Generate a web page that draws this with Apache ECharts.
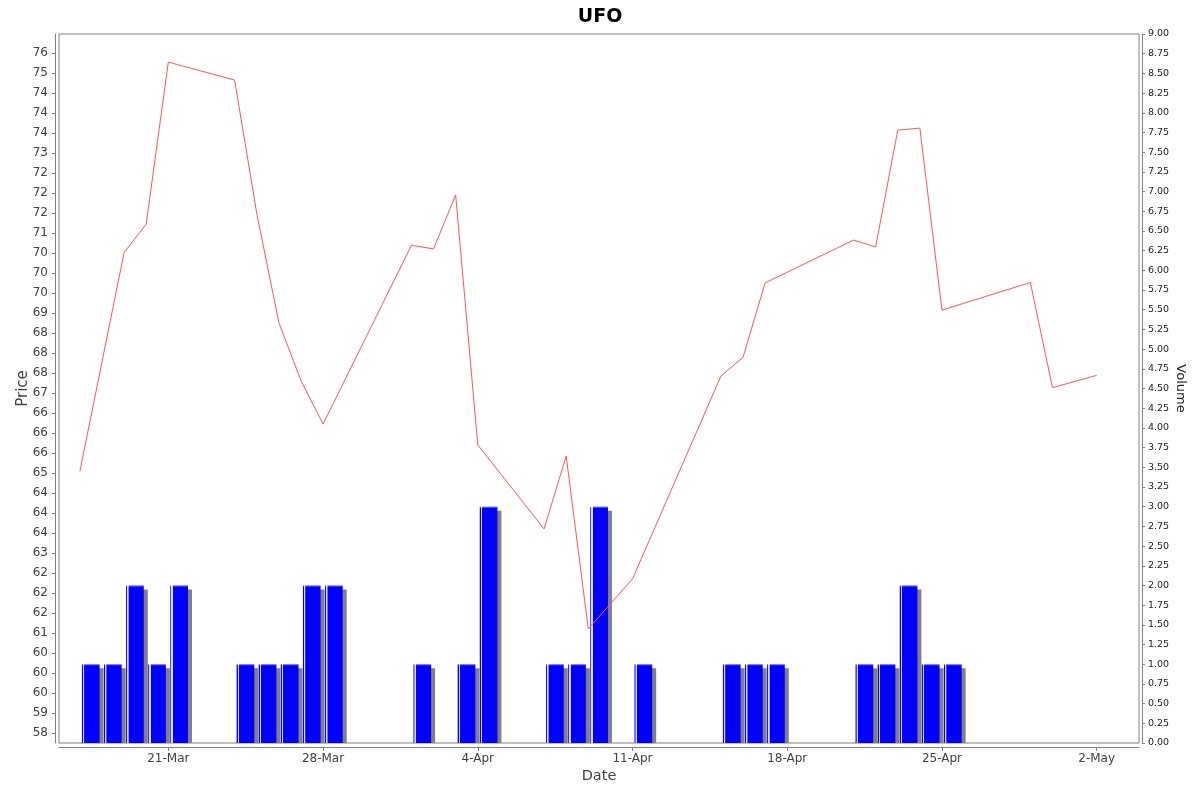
<!DOCTYPE html>
<html>
<head>
<meta charset="utf-8">
<script src="https://cdn.jsdelivr.net/npm/echarts@6/dist/echarts.min.js"></script>
<style>
html,body{margin:0;padding:0;background:#ffffff;}
#chart{width:1200px;height:792px;}
</style>
</head>
<body>
<div id="chart"></div>
<script>
// ---------------- data ----------------
const priceDates = ['2014-03-17','2014-03-19','2014-03-20','2014-03-21','2014-03-24','2014-03-25','2014-03-26','2014-03-27','2014-03-28',
  '2014-04-01','2014-04-02','2014-04-03','2014-04-04','2014-04-07','2014-04-08','2014-04-09','2014-04-11',
  '2014-04-15','2014-04-16','2014-04-17','2014-04-21','2014-04-22','2014-04-23','2014-04-24','2014-04-25',
  '2014-04-29','2014-04-30','2014-05-02'];
const priceValues = [65.05, 70.52, 71.23, 75.28, 74.83, 71.50, 68.77, 67.32, 66.23,
  70.70, 70.61, 71.96, 65.71, 63.61, 65.43, 61.11, 62.36,
  67.43, 67.90, 69.76, 70.83, 70.66, 73.58, 73.63, 69.08,
  69.77, 67.14, 67.45];

const volumeDates = ['2014-03-17','2014-03-18','2014-03-19','2014-03-20','2014-03-21',
  '2014-03-24','2014-03-25','2014-03-26','2014-03-27','2014-03-28',
  '2014-04-01','2014-04-03','2014-04-04',
  '2014-04-07','2014-04-08','2014-04-09','2014-04-11',
  '2014-04-15','2014-04-16','2014-04-17',
  '2014-04-21','2014-04-22','2014-04-23','2014-04-24','2014-04-25'];
const volumeValues = [1, 1, 2, 1, 2,
  1, 1, 1, 2, 2,
  1, 1, 3,
  1, 1, 3, 1,
  1, 1, 1,
  1, 1, 2, 1, 1];

const dateTickValues = ['2014-03-21','2014-03-28','2014-04-04','2014-04-11','2014-04-18','2014-04-25','2014-05-02'];
const dateTickLabels = ['21-Mar','28-Mar','4-Apr','11-Apr','18-Apr','25-Apr','2-May'];

const priceTickValues = [58.5, 59, 59.5, 60, 60.5, 61, 61.5, 62, 62.5, 63, 63.5, 64, 64.5, 65, 65.5, 66, 66.5, 67,
  67.5, 68, 68.5, 69, 69.5, 70, 70.5, 71, 71.5, 72, 72.5, 73, 73.5, 74, 74.5, 75, 75.5];
const priceTickLabels = ['58','59','60','60','60','61','62','62','62','63','64','64','64','65','66','66','66','67',
  '68','68','68','69','70','70','70','71','72','72','72','73','74','74','74','75','76'];

// ---------------- helpers ----------------
const DAY = 86400000;
const toTime = s => Date.parse(s + 'T00:00:00Z');
const xTickTimes = dateTickValues.map(toTime);

const X_MIN = toTime('2014-03-21') - 4.945 * DAY;
const X_MAX = toTime('2014-05-02') + 1.914 * DAY;
const PRICE_MIN = 58.2575, PRICE_MAX = 75.9825;
const BAR_START = 0.09, BAR_END = 0.89;

const barFill = {
  type: 'linear', x: 0, y: 0, x2: 1, y2: 0,
  colorStops: [
    { offset: 0, color: '#0000ff' },
    { offset: 0.05, color: '#0000ff' },
    { offset: 0.065, color: '#dcdcff' },
    { offset: 0.13, color: '#dcdcff' },
    { offset: 0.15, color: '#0000ff' },
    { offset: 1, color: '#0000ff' }
  ]
};

const chart = echarts.init(document.getElementById('chart'), null, { renderer: 'canvas' });

const axisGray = '#808080';
const labelGray = '#404040';
const FONT = 'DejaVu Sans';

chart.setOption({
  animation: false,
  backgroundColor: '#ffffff',
  textStyle: { fontFamily: FONT },
  title: {
    text: 'UFO',
    left: 'center',
    top: 3,
    textStyle: { fontFamily: FONT, fontSize: 19, fontWeight: 'bold', color: '#000000' }
  },
  grid: {
    left: 59, right: 61, top: 34, bottom: 49,
    show: true, borderColor: axisGray, borderWidth: 1, backgroundColor: '#ffffff'
  },
  xAxis: {
    type: 'value',
    min: X_MIN, max: X_MAX,
    position: 'bottom',
    offset: 4,
    name: 'Date',
    nameLocation: 'middle',
    nameGap: 22,
    nameMoveOverlap: false,
    nameTextStyle: { fontFamily: FONT, fontSize: 14.5, color: labelGray },
    axisLine: { show: true, onZero: false, lineStyle: { color: axisGray, width: 1 } },
    axisTick: { show: true, length: 4, lineStyle: { color: axisGray }, customValues: xTickTimes },
    axisLabel: {
      customValues: xTickTimes,
      margin: 6,
      fontSize: 12,
      color: labelGray,
      fontFamily: FONT,
      formatter: function (v) {
        const i = xTickTimes.findIndex(t => Math.abs(t - v) < 1000);
        return i >= 0 ? dateTickLabels[i] : '';
      }
    },
    splitLine: { show: false }
  },
  yAxis: [
    {
      type: 'value',
      min: PRICE_MIN, max: PRICE_MAX,
      position: 'left',
      offset: 4,
      name: 'Price',
      nameLocation: 'middle',
      nameGap: 24,
      nameMoveOverlap: false,
      nameTextStyle: { fontFamily: FONT, fontSize: 15, color: labelGray },
      axisLine: { show: true, onZero: false, lineStyle: { color: axisGray, width: 1 } },
      axisTick: { show: true, length: 3, lineStyle: { color: axisGray }, customValues: priceTickValues },
      axisLabel: {
        customValues: priceTickValues,
        margin: 7,
        fontSize: 12,
        color: labelGray,
        fontFamily: FONT,
        formatter: function (v) {
          const i = priceTickValues.findIndex(t => Math.abs(t - v) < 1e-6);
          return i >= 0 ? priceTickLabels[i] : '';
        }
      },
      splitLine: { show: false }
    },
    {
      type: 'value',
      min: 0, max: 9, interval: 0.25,
      position: 'right',
      offset: 3,
      name: 'Volume',
      nameLocation: 'middle',
      nameRotate: -90,
      nameGap: 32,
      nameMoveOverlap: false,
      nameTextStyle: { fontFamily: FONT, fontSize: 13, color: '#222222' },
      axisLine: { show: true, onZero: false, lineStyle: { color: axisGray, width: 1 } },
      axisTick: { show: true, length: 3, lineStyle: { color: axisGray } },
      axisLabel: {
        margin: 6,
        fontSize: 9.5,
        color: '#222222',
        fontFamily: FONT,
        formatter: v => v.toFixed(2)
      },
      splitLine: { show: false }
    }
  ],
  series: [
    {
      name: 'Volume',
      type: 'custom',
      yAxisIndex: 1,
      z: 2,
      encode: { x: 0, y: 1 },
      data: volumeDates.map((d, i) => [toTime(d), volumeValues[i]]),
      renderItem: function (params, api) {
        const t = api.value(0), v = api.value(1);
        const tl = api.coord([t + BAR_START * DAY, v]);
        const br = api.coord([t + BAR_END * DAY, 0]);
        const cs = params.coordSys;
        const bottom = cs.y + cs.height;
        const x = tl[0], y = tl[1], w = br[0] - tl[0], h = br[1] - tl[1];
        return {
          type: 'group',
          children: [
            { type: 'rect', shape: { x: x + 4, y: y + 4, width: w, height: Math.max(0, bottom - y - 4) }, style: { fill: '#808080' } },
            { type: 'rect', shape: { x: x, y: y, width: w, height: h }, style: { fill: barFill } },
            { type: 'rect', shape: { x: x, y: y, width: w, height: 1 }, style: { fill: 'rgba(255,255,255,0.45)' } }
          ]
        };
      }
    },
    {
      name: 'Price',
      type: 'line',
      yAxisIndex: 0,
      z: 3,
      showSymbol: false,
      symbol: 'none',
      lineStyle: { color: '#ff5555', width: 1 },
      data: priceDates.map((d, i) => [toTime(d), priceValues[i]])
    }
  ]
});
</script>
</body>
</html>
